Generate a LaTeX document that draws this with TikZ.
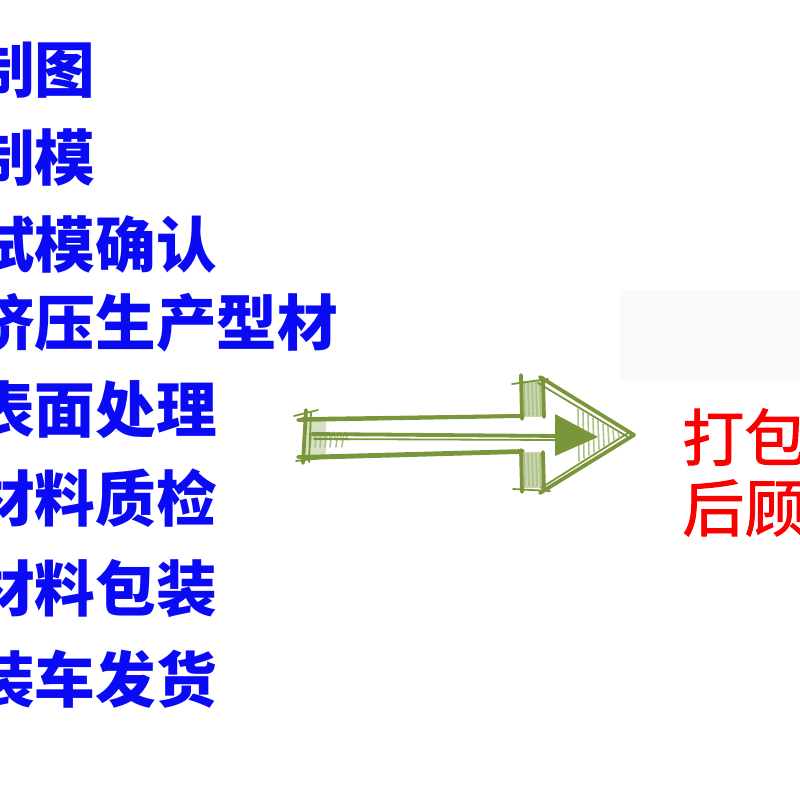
\documentclass[tikz,border=0pt]{standalone}
\usepackage{fontspec}
\newfontfamily\cjk{Noto Sans CJK SC}
\newfontfamily\cjkred[FakeBold=1.5]{Noto Sans CJK SC}
\definecolor{stepblue}{RGB}{10,10,245}
\definecolor{notered}{RGB}{250,0,0}
\definecolor{arrowgreen}{RGB}{122,150,58}
\definecolor{faintbox}{RGB}{250,250,250}
\begin{document}
\begin{tikzpicture}[x=0.5pt,y=-0.5pt,
  steptext/.style={text=stepblue,font=\cjk\bfseries\fontsize{30.3}{30}\selectfont,anchor=west,inner sep=0pt},
  notetext/.style={text=notered,font=\cjkred\fontsize{31}{31}\selectfont,anchor=west,inner sep=0pt},
  sketch/.style={draw=arrowgreen,line width=1.9pt,line cap=round,line join=round},
  thinsketch/.style={draw=arrowgreen,line width=0.9pt,line cap=round},
  hatch/.style={draw=arrowgreen!60,line width=0.8pt,line cap=round}]
\useasboundingbox (0,0) rectangle (800,800);
\fill[faintbox] (620,290) rectangle (800,380);
% process steps
\node[steptext] (s1) at (-26,70) {制图};
\node[steptext] (s2) at (-26,157) {制模};
\node[steptext] (s3) at (-26,244) {试模确认};
\node[steptext] (s4) at (-26,323) {挤压生产型材};
\node[steptext] (s5) at (-26,410) {表面处理};
\node[steptext] (s6) at (-26,498) {材料质检};
\node[steptext] (s7) at (-26,589) {材料包装};
\node[steptext] (s8) at (-26,679) {装车发货};
% notes
\node[notetext] (n1) at (682,437) {打包};
\node[notetext] (n2) at (682,508) {后顾};
% sketched arrow
\coordinate (tail) at (305,436);
\coordinate (tip) at (634,435);
% notch bands (shaded)
\fill[arrowgreen!40] (521,381) rectangle (543,417);
\fill[arrowgreen!40] (521,452) rectangle (543,488);
\foreach \x in {524,528,532,536,540}{
  \draw[hatch] (\x,383) -- (\x+1,415);
  \draw[hatch] (\x,454) -- (\x+1,486);
}
% tail cap shading
\fill[arrowgreen!30] (304,420) rectangle (326,455);
\foreach \x in {310,315,320,325,330,336,342}{
  \draw[hatch] (\x,447) .. controls (\x+2,430) and (\x+4,428) .. (\x+5,440);
}
% shaft
\draw[sketch] (298,420) -- (523,416);
\draw[thinsketch] (302,418) -- (520,415);
\draw[sketch] (298,457) -- (523,451);
\draw[thinsketch] (303,459) -- (520,453);
\draw[sketch] (312,434) -- (560,436);
\draw[thinsketch] (314,439) -- (560,440);
% tail cap
\draw[sketch] (306,410) -- (303,463);
\draw[thinsketch] (311,412) -- (309,462);
\draw[thinsketch] (294,416) -- (318,410);
\draw[thinsketch] (296,461) -- (322,458);
% notch edges
\draw[sketch] (521,375) -- (522,419);
\draw[sketch] (543,378) -- (544,417);
\draw[sketch] (521,450) -- (522,492);
\draw[sketch] (543,452) -- (544,489);
\draw[thinsketch] (512,384) -- (548,379);
\draw[thinsketch] (513,489) -- (550,491);
% head outline
\draw[sketch] (tip) -- (540,377);
\draw[sketch] (tip) -- (540,493);
\draw[thinsketch] (628,437) -- (538,383);
\draw[thinsketch] (628,433) -- (541,488);
% hatch near tip
\foreach \x/\a/\b in {578/409/461,583/412/458,588/415/455,593/418/452,598/421/449,603/424/446,608/427/443,613/430/440,618/432/438}{
  \draw[hatch] (\x,\a) -- (\x+1,\b);
}
% inner arrowhead
\fill[arrowgreen] (555,414) -- (598,437) -- (555,456) -- cycle;
\end{tikzpicture}
\end{document}
